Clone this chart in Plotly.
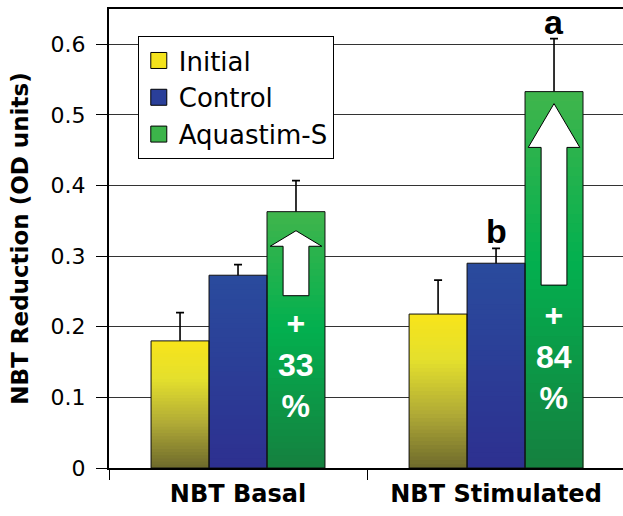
import plotly.graph_objects as go

# ---------------- data ----------------
categories = ["NBT Basal", "NBT Stimulated"]
series_names = ["Initial", "Control", "Aquastim-S"]
initial_vals = [0.180, 0.218]
control_vals = [0.273, 0.290]
aquastim_vals = [0.363, 0.533]
initial_err = [0.040, 0.048]
control_err = [0.015, 0.021]
aquastim_err = [0.044, 0.075]
control_letters = ["", "b"]
aquastim_letters = ["", "a"]
increase_labels = ["33", "84"]
increase_label_y = [0.146, 0.158]
arrow_tail = [0.244, 0.259]
arrow_head_base = [0.314, 0.454]
arrow_tip = [0.336, 0.516]
y_tick_vals = [0, 0.1, 0.2, 0.3, 0.4, 0.5, 0.6]
y_tick_labels = ["0", "0.1", "0.2", "0.3", "0.4", "0.5", "0.6"]

# ---------------- style ----------------
BARGAP = 0.326
N_SEG = 40
legend_colors = ["#f4e31c", "#2a3f99", "#3cb44a"]
gradients = [
    [(0.0, "#f8e41a"), (0.3, "#e4e02d"), (0.65, "#b0aa36"), (1.0, "#6e6a2c")],
    [(0.0, "#2a4b9d"), (1.0, "#2d3090")],
    [(0.0, "#40b54c"), (0.45, "#03b04f"), (1.0, "#15803f")],
]


def hex2rgb(h):
    h = h.lstrip("#")
    return [int(h[i:i + 2], 16) for i in (0, 2, 4)]


def grad_color(stops, f):
    for (f0, c0), (f1, c1) in zip(stops[:-1], stops[1:]):
        if f0 <= f <= f1:
            t = (f - f0) / (f1 - f0) if f1 > f0 else 0
            a, b = hex2rgb(c0), hex2rgb(c1)
            return "rgb({},{},{})".format(*[round(a[i] + (b[i] - a[i]) * t) for i in range(3)])
    return stops[-1][1]


x_idx = list(range(len(categories)))
values = [initial_vals, control_vals, aquastim_vals]
errors = [initial_err, control_err, aquastim_err]
bar_w = (1 - BARGAP) / 3

fig = go.Figure()

# legend entries
for name, col in zip(series_names, legend_colors):
    fig.add_trace(go.Scatter(
        x=[None], y=[None], mode="markers", name=name,
        marker=dict(symbol="square", size=16, color=col, line=dict(color="black", width=1)),
        hoverinfo="skip"))

# error bars first (lower half gets hidden beneath the bars)
for s, (name, vals, errs) in enumerate(zip(series_names, values, errors)):
    fig.add_trace(go.Bar(
        x=x_idx, y=vals, offsetgroup=str(s), showlegend=False,
        marker=dict(color="rgba(0,0,0,0)", line=dict(width=0)),
        error_y=dict(type="data", array=errs, color="black", thickness=1.6, width=4),
        hoverinfo="skip"))

# gradient-filled bars: nested bars from full height downward
for s, (name, vals, stops) in enumerate(zip(series_names, values, gradients)):
    for k in range(N_SEG):
        f = (k + 0.5) / N_SEG
        fig.add_trace(go.Bar(
            x=x_idx, y=[v * (N_SEG - k) / N_SEG for v in vals],
            offsetgroup=str(s), marker=dict(color=grad_color(stops, f), line=dict(width=0)),
            showlegend=False, hoverinfo="skip"))

# outlines
for s, (name, vals) in enumerate(zip(series_names, values)):
    fig.add_trace(go.Bar(
        x=x_idx, y=vals, offsetgroup=str(s), name=name, showlegend=False,
        marker=dict(color="rgba(0,0,0,0)", line=dict(color="#111111", width=1)),
        hoverinfo="skip"))

# white arrows inside Aquastim-S bars
hw, sw = 0.1, 0.05
for i in x_idx:
    xc = i + bar_w
    t, hb, tip = arrow_tail[i], arrow_head_base[i], arrow_tip[i]
    path = (f"M{xc - sw},{t} L{xc + sw},{t} L{xc + sw},{hb} L{xc + hw},{hb} "
            f"L{xc},{tip} L{xc - hw},{hb} L{xc - sw},{hb} Z")
    fig.add_shape(type="path", path=path, xref="x", yref="y",
                  fillcolor="white", line=dict(color="black", width=1))

# percentage labels
for i in x_idx:
    fig.add_annotation(x=i + bar_w, y=increase_label_y[i], xref="x", yref="y",
                       text="+<br>" + increase_labels[i] + "<br>%", showarrow=False,
                       yanchor="middle", xanchor="center",
                       font=dict(family="Liberation Sans", size=32, color="white", weight="bold"))

# significance letters
for letters, s in ((control_letters, 1), (aquastim_letters, 2)):
    for i in x_idx:
        if letters[i]:
            fig.add_annotation(x=i + (s - 1) * bar_w, y=values[s][i] + errors[s][i],
                               xref="x", yref="y", text=letters[i], showarrow=False,
                               yanchor="bottom", yshift=-4,
                               font=dict(family="Liberation Sans", size=34, color="black", weight="bold"))

fig.update_layout(
    width=623, height=516,
    margin=dict(l=109, r=0, t=9, b=48),
    barmode="group", bargap=BARGAP, bargroupgap=0,
    plot_bgcolor="white", paper_bgcolor="white",
    showlegend=True,
    legend=dict(x=0.056, y=0.941, xanchor="left", yanchor="top",
                bgcolor="white", bordercolor="black", borderwidth=1,
                font=dict(family="DejaVu Sans", size=26, color="black"),
                tracegroupgap=0),
    xaxis=dict(range=[-0.5, 1.492], tickvals=x_idx, ticktext=categories, ticks="",
               showline=True, linecolor="black", linewidth=2, mirror=True,
               showgrid=False, zeroline=False,
               minor=dict(tickvals=[-0.5, 0.5, 1.5], ticks="outside", ticklen=10,
                          tickcolor="black", tickwidth=1, showgrid=False),
               tickfont=dict(family="DejaVu Sans", size=24, color="black", weight="bold"),
               ticklabelstandoff=3),
    yaxis=dict(range=[0, 0.65], tickvals=y_tick_vals, ticktext=y_tick_labels,
               ticks="outside", ticklen=11, tickcolor="black",
               showline=True, linecolor="black", linewidth=2,
               showgrid=True, gridcolor="#333333", gridwidth=1, zeroline=False,
               tickfont=dict(family="DejaVu Sans", size=22, color="black"),
               ticklabelstandoff=6,
               title=dict(text="NBT Reduction (OD units)", standoff=16,
                          font=dict(family="DejaVu Sans", size=23, color="black", weight="bold"))),
)

fig.write_html("out.html", config={"displayModeBar": False},
               post_script="document.body.style.margin='0';")
